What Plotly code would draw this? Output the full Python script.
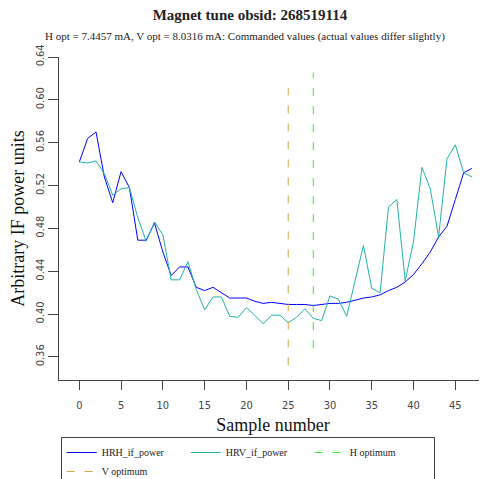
import plotly.graph_objects as go

sample = list(range(48))
hrh_if_power = [0.542, 0.564, 0.570, 0.528, 0.504, 0.533, 0.518, 0.469, 0.469, 0.485,
                0.458, 0.436, 0.444, 0.444, 0.425, 0.422, 0.425, 0.420, 0.415, 0.415,
                0.415, 0.412, 0.410, 0.411, 0.410, 0.409, 0.409, 0.409, 0.408, 0.409,
                0.410, 0.410, 0.411, 0.413, 0.415, 0.416, 0.418, 0.422, 0.425, 0.430,
                0.437, 0.447, 0.458, 0.472, 0.482, 0.507, 0.532, 0.536]
hrv_if_power = [0.542, 0.541, 0.543, 0.531, 0.511, 0.517, 0.518, 0.490, 0.468, 0.486,
                0.474, 0.432, 0.432, 0.449, 0.423, 0.404, 0.416, 0.416, 0.398, 0.397,
                0.406, 0.399, 0.391, 0.399, 0.399, 0.392, 0.397, 0.405, 0.396, 0.394,
                0.417, 0.414, 0.398, 0.432, 0.464, 0.424, 0.420, 0.500, 0.507, 0.431,
                0.468, 0.537, 0.517, 0.472, 0.545, 0.558, 0.532, 0.528]
h_opt_x = [28, 28]
h_opt_y = [0.3682, 0.6256]
v_opt_x = [25, 25]
v_opt_y = [0.3522, 0.6113]
y_ticks = [0.36, 0.40, 0.44, 0.48, 0.52, 0.56, 0.60, 0.64]
x_ticks = [0, 5, 10, 15, 20, 25, 30, 35, 40, 45]

serif = "Liberation Serif, Times New Roman, serif"
tickfont = dict(family="Liberation Sans Narrow, DejaVu Sans Condensed, Liberation Sans, sans-serif",
                size=11, color="#444")

W, H = 479, 471
L, T, B = 51, 49, 99

fig = go.Figure()
fig.add_trace(go.Scatter(x=sample, y=hrh_if_power, mode="lines", name="HRH_if_power",
                         line=dict(color="#0000FF", width=1)))
fig.add_trace(go.Scatter(x=sample, y=hrv_if_power, mode="lines", name="HRV_if_power",
                         line=dict(color="#20B2AA", width=1)))
fig.add_trace(go.Scatter(x=h_opt_x, y=h_opt_y, mode="lines", name="H optimum",
                         line=dict(color="#33EE33", width=1, dash="8px,10px")))
fig.add_trace(go.Scatter(x=v_opt_x, y=v_opt_y, mode="lines", name="V optimum",
                         line=dict(color="#D4A640", width=1, dash="8px,10px")))

plot_h = H - T - B
fig.update_layout(
    width=W, height=H,
    margin=dict(l=L, r=0, t=T, b=B, autoexpand=False),
    paper_bgcolor="white", plot_bgcolor="white",
    title=dict(text="<b>Magnet tune obsid: 268519114</b>", x=242 / W, xanchor="center",
               y=1 - 7 / H, yanchor="middle", xref="container", yref="container",
               font=dict(family=serif, size=15, color="#222")),
    annotations=[dict(text="H opt = 7.4457 mA, V opt = 8.0316 mA: Commanded values (actual values differ slightly)",
                      xref="paper", yref="paper", x=(237 - L) / (W - L), y=1 + (T - 29) / plot_h,
                      xanchor="center", yanchor="middle", showarrow=False,
                      font=dict(family=serif, size=11, color="#222"))],
    xaxis=dict(range=[-2.43, 48.79], tickvals=x_ticks, ticks="outside", ticklen=9,
               tickcolor="#444", showline=True, linecolor="#444", linewidth=1,
               showgrid=False, zeroline=False, tickfont=tickfont, ticklabelstandoff=6,
               title=dict(text="Sample number", font=dict(family=serif, size=18, color="#111"),
                          standoff=7)),
    yaxis=dict(range=[0.3385, 0.64], tickvals=y_ticks, tickformat=".2f", ticks="outside",
               ticklen=10, tickcolor="#444", showline=True, linecolor="#444", linewidth=1,
               showgrid=False, zeroline=False, tickfont=tickfont, tickangle=-90,
               title=dict(text="Arbitrary IF power units", font=dict(family=serif, size=18, color="#111"),
                          standoff=5)),
    legend=dict(orientation="h", x=0.004, y=(372 - 429) / plot_h, xanchor="left", yanchor="top",
                bordercolor="#444", borderwidth=1, bgcolor="white",
                entrywidth=79, entrywidthmode="pixels",
                font=dict(family=serif, size=10, color="#222"), tracegroupgap=0),
    showlegend=True,
)

fig.write_html("out.html")
